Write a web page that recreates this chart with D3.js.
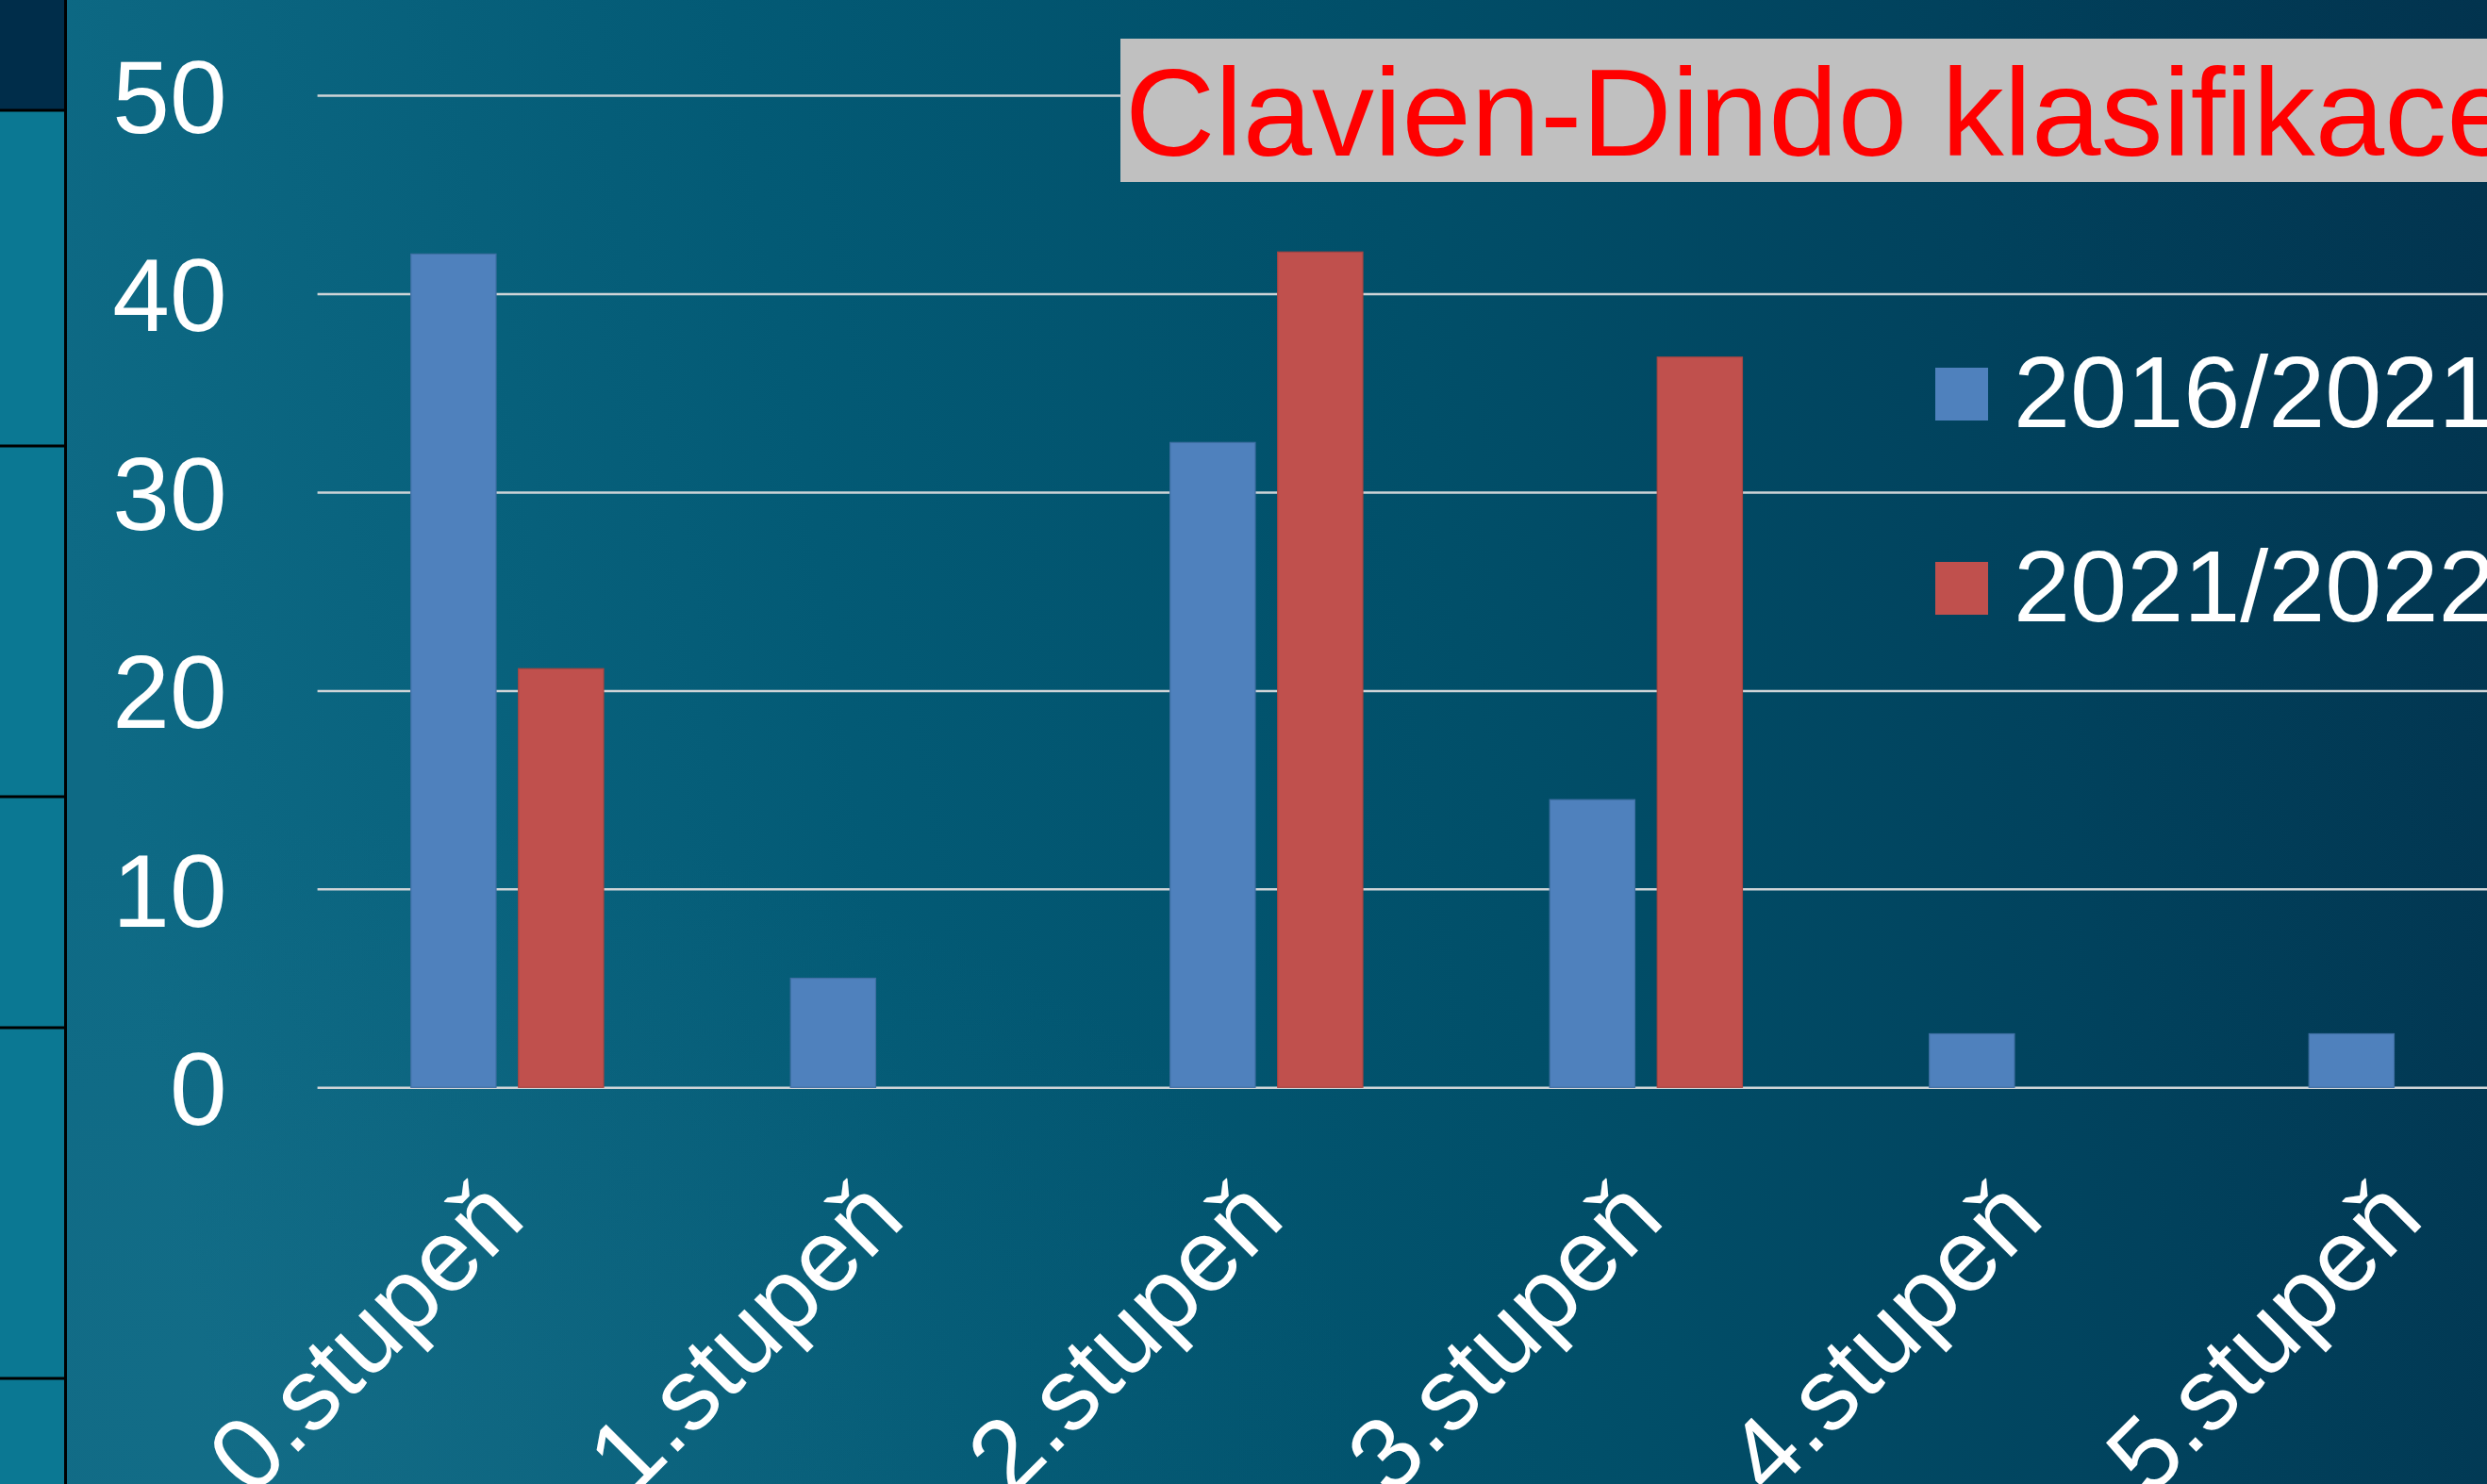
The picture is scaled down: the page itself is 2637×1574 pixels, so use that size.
<!DOCTYPE html>
<html>
<head>
<meta charset="utf-8">
<script src="https://cdn.jsdelivr.net/npm/d3@7"></script>
<style>
  html, body { margin: 0; padding: 0; overflow: hidden; background: #02344f; }
  svg { display: block; }
  text { font-family: "Liberation Sans", Arial, sans-serif; }
</style>
</head>
<body>
<svg id="chart" width="2637" height="1574"></svg>
<script>
// ---- Data ----
const categories = ["0.stupeň", "1.stupeň", "2.stupeň", "3.stupeň", "4.stupeň", "5.stupeň"];
const seriesNames = ["2016/2021", "2021/2022"];
const values2016 = [42.0, 5.5, 32.5, 14.5, 2.7, 2.7];
const values2021 = [21.1, 0, 42.1, 36.8, 0, 0];
const yTicks = [0, 10, 20, 30, 40, 50];
const titleText = "Clavien-Dindo klasifikace";
const seriesColors = ["#4f81bd", "#c0504d"];
const seriesStrokes = ["#3f6fa3", "#a94542"];

const W = 2637, H = 1574;
const svg = d3.select("#chart");

// ---- Background ----
const defs = svg.append("defs");
const bg = defs.append("linearGradient").attr("id", "bg")
  .attr("x1", "0").attr("y1", "0.1").attr("x2", "1").attr("y2", "0");
bg.append("stop").attr("offset", "0").attr("stop-color", "#0e6a85");
bg.append("stop").attr("offset", "0.3").attr("stop-color", "#035a75");
bg.append("stop").attr("offset", "0.55").attr("stop-color", "#014f69");
bg.append("stop").attr("offset", "0.78").attr("stop-color", "#01425d");
bg.append("stop").attr("offset", "1").attr("stop-color", "#02334e");
svg.append("rect").attr("width", W).attr("height", H).attr("fill", "url(#bg)");

const glow = defs.append("radialGradient").attr("id", "glow")
  .attr("cx", "0.15").attr("cy", "0.95").attr("r", "0.4");
glow.append("stop").attr("offset", "0").attr("stop-color", "#2a7890").attr("stop-opacity", 0.18);
glow.append("stop").attr("offset", "1").attr("stop-color", "#2a7890").attr("stop-opacity", 0);
svg.append("rect").attr("width", W).attr("height", H).attr("fill", "url(#glow)");

// ---- Left strip ----
const strip = svg.append("g");
strip.append("rect").attr("x", 0).attr("y", 0).attr("width", 69).attr("height", H).attr("fill", "#0b7893");
strip.append("rect").attr("x", 0).attr("y", 0).attr("width", 69).attr("height", 117).attr("fill", "#002d4a");
[117, 473, 845, 1090, 1462].forEach(y => {
  strip.append("rect").attr("x", 0).attr("y", y - 1.5).attr("width", 70).attr("height", 3).attr("fill", "#000");
});
strip.append("rect").attr("x", 68).attr("y", 0).attr("width", 3).attr("height", H).attr("fill", "#000");

// ---- Scales ----
const plotLeft = 336.6, step = 402.5;
const x0 = d3.scaleBand().domain(categories)
  .range([plotLeft, plotLeft + step * categories.length])
  .paddingInner(0.4924).paddingOuter(0.2462);
const x1 = d3.scaleBand().domain(seriesNames).range([0, x0.bandwidth()])
  .paddingInner(0.208).paddingOuter(0);
const y = d3.scaleLinear().domain([0, 50]).range([1153.3, 101]);

// ---- Gridlines + y axis ----
const yAxis = d3.axisLeft(y).tickValues(yTicks).tickSize(-(W - plotLeft)).tickPadding(96).tickFormat(d3.format("d"));
const gy = svg.append("g").attr("transform", `translate(${plotLeft},0)`).call(yAxis);
gy.select(".domain").remove();
gy.selectAll(".tick line").attr("stroke", "#cfd4d7").attr("stroke-width", 2.5);
gy.selectAll(".tick text").attr("fill", "#ffffff").attr("font-size", 109)
  .attr("font-family", "Liberation Sans, Arial, sans-serif").attr("dy", "0.36em");

// ---- Bars ----
const rows = categories.map((c, i) => ({ cat: c, vals: [values2016[i], values2021[i]] }));
const groups = svg.append("g").selectAll("g").data(rows).join("g")
  .attr("transform", d => `translate(${x0(d.cat)},0)`);
groups.selectAll("rect").data(d => d.vals.map((v, k) => ({ v, k })).filter(e => e.v > 0)).join("rect")
  .attr("x", e => x1(seriesNames[e.k]))
  .attr("y", e => y(e.v))
  .attr("width", x1.bandwidth())
  .attr("height", e => y(0) - y(e.v))
  .attr("fill", e => seriesColors[e.k])
  .attr("stroke", e => seriesStrokes[e.k])
  .attr("stroke-width", 1.2);

// ---- X axis labels ----
const xAxis = d3.axisBottom(x0).tickSize(0);
const gx = svg.append("g").attr("transform", `translate(0,${y(0)})`).call(xAxis);
gx.select(".domain").remove();
gx.selectAll(".tick text")
  .attr("fill", "#ffffff").attr("font-size", 108)
  .attr("font-family", "Liberation Sans, Arial, sans-serif")
  .attr("text-anchor", "end")
  .attr("x", 0).attr("y", 0).attr("dy", 0)
  .attr("transform", "translate(22,143) rotate(-45)");

// ---- Title ----
svg.append("rect").attr("x", 1188).attr("y", 41).attr("width", W - 1188).attr("height", 152).attr("fill", "#c0c0c0");
svg.append("text").attr("x", 1193).attr("y", 164.5).attr("font-size", 132).attr("fill", "#ff0000").text(titleText);

// ---- Legend ----
const legend = svg.append("g");
seriesNames.forEach((name, k) => {
  const yy = 390 + k * 206;
  legend.append("rect").attr("x", 2052).attr("y", yy).attr("width", 56).attr("height", 56).attr("fill", seriesColors[k]);
  legend.append("text").attr("x", 2135).attr("y", yy + 62.7).attr("font-size", 108).attr("fill", "#ffffff").text(name);
});
</script>
</body>
</html>
